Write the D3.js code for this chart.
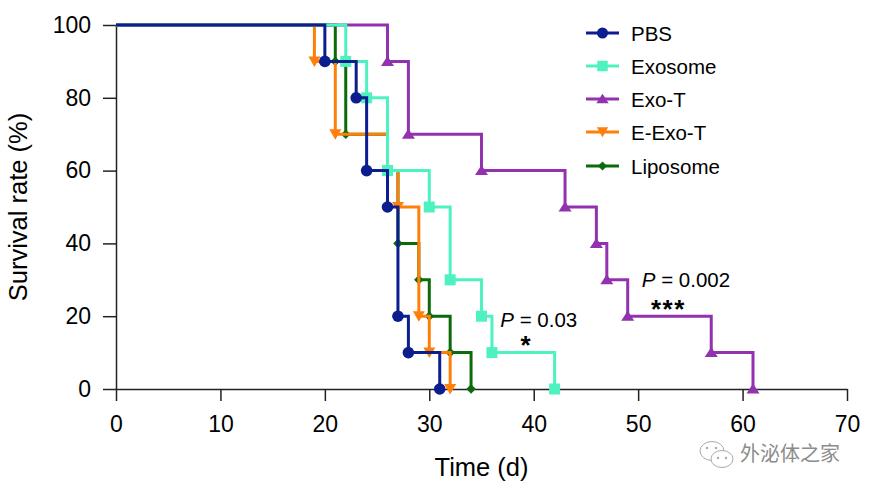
<!DOCTYPE html>
<html>
<head>
<meta charset="utf-8">
<script src="https://cdn.jsdelivr.net/npm/d3@7"></script>
<style>
  html, body { margin: 0; padding: 0; background: #fff; }
  svg { display: block; }
  text { font-family: "Liberation Sans", Arial, Helvetica, sans-serif; }
</style>
</head>
<body>
<svg id="chart" width="873" height="492"></svg>
<script>
// ---------------- data ----------------
const seriesNames = ["PBS", "Exosome", "Exo-T", "E-Exo-T", "Liposome"];
const pbsTimes      = [0, 20, 23, 24, 26, 27, 28, 31];
const pbsValues     = [100, 90, 80, 60, 50, 20, 10, 0];
const exosomeTimes  = [0, 22, 24, 26, 30, 32, 35, 36, 42];
const exosomeValues = [100, 90, 80, 60, 50, 30, 20, 10, 0];
const exoTTimes     = [0, 26, 28, 35, 43, 46, 47, 49, 57, 61];
const exoTValues    = [100, 90, 70, 60, 50, 40, 30, 20, 10, 0];
const eExoTTimes    = [0, 19, 21, 26, 27, 29, 30, 32];
const eExoTValues   = [100, 90, 70, 60, 50, 20, 10, 0];
const liposomeTimes = [0, 21, 22, 26, 27, 29, 30, 32, 34];
const liposomeValues= [100, 90, 70, 60, 40, 30, 20, 10, 0];
const xTicks = [0, 10, 20, 30, 40, 50, 60, 70];
const yTicks = [0, 20, 40, 60, 80, 100];
const xLabel = "Time (d)";
const yLabel = "Survival rate (%)";
const annotations = [
  {x: 36.8, y: 17.1, p: "0.03", stars: "*", sx: 39.3, sy: 9.6},
  {x: 50.35, y: 27.9, p: "0.002", stars: "***", sx: 52.9, sy: 19.5}
];

// ---------------- styles ----------------
const colors = {
  "PBS": "#0c1d8e",
  "Exosome": "#4ef2c0",
  "Exo-T": "#9232ae",
  "E-Exo-T": "#ff7f0a",
  "Liposome": "#0b6b0b"
};
const symbols = {
  "PBS": "circle",
  "Exosome": "square",
  "Exo-T": "triUp",
  "E-Exo-T": "triDown",
  "Liposome": "diamond"
};

const series = [
  {name: "PBS", times: pbsTimes, values: pbsValues},
  {name: "Exosome", times: exosomeTimes, values: exosomeValues},
  {name: "Exo-T", times: exoTTimes, values: exoTValues},
  {name: "E-Exo-T", times: eExoTTimes, values: eExoTValues},
  {name: "Liposome", times: liposomeTimes, values: liposomeValues}
].map(s => ({...s, points: s.times.map((t, i) => ({t, v: s.values[i]}))}));

const svg = d3.select("#chart");
const x = d3.scaleLinear().domain([0, 70]).range([116, 847]);
const y = d3.scaleLinear().domain([0, 100]).range([389, 25]);

// axes
const axisColor = "#222";
const gx = svg.append("g").attr("transform", `translate(0,${y(0)})`)
  .call(d3.axisBottom(x).tickValues(xTicks).tickSize(12).tickSizeOuter(0).tickPadding(15));
const gy = svg.append("g").attr("transform", `translate(${x(0)},0)`)
  .call(d3.axisLeft(y).tickValues(yTicks).tickSize(13).tickSizeOuter(0).tickPadding(12));
[gx, gy].forEach(g => {
  g.select(".domain").attr("stroke", axisColor).attr("stroke-width", 1.5);
  g.selectAll(".tick line").attr("stroke", axisColor).attr("stroke-width", 1.5);
  g.selectAll(".tick text").attr("fill", "#000").style("font-size", "23px")
    .style("font-family", '"Liberation Sans", Arial, sans-serif');
});

// axis titles
svg.append("text").attr("x", (x(0) + x(70)) / 2).attr("y", 476)
  .attr("text-anchor", "middle").style("font-size", "25.5px").text(xLabel);
svg.append("text").attr("transform", `translate(27,${(y(0) + y(100)) / 2}) rotate(-90)`)
  .attr("text-anchor", "middle").style("font-size", "25.5px").text(yLabel);

// marker drawer
function drawMarker(g, type, cx, cy, color, scale = 1) {
  const k = scale;
  if (type === "circle") {
    g.append("circle").attr("cx", cx).attr("cy", cy).attr("r", 5.8 * k).attr("fill", color);
  } else if (type === "square") {
    const s = 11 * k;
    g.append("rect").attr("x", cx - s / 2).attr("y", cy - s / 2).attr("width", s).attr("height", s).attr("fill", color);
  } else if (type === "triUp") {
    g.append("path").attr("d", `M${cx},${cy - 5.5 * k} L${cx - 6.5 * k},${cy + 4.5 * k} L${cx + 6.5 * k},${cy + 4.5 * k} Z`).attr("fill", color);
  } else if (type === "triDown") {
    g.append("path").attr("d", `M${cx},${cy + 5.5 * k} L${cx - 6 * k},${cy - 5 * k} L${cx + 6 * k},${cy - 5 * k} Z`).attr("fill", color);
  } else if (type === "diamond") {
    const s = 4.8 * k;
    g.append("path").attr("d", `M${cx},${cy - s} L${cx + s},${cy} L${cx},${cy + s} L${cx - s},${cy} Z`).attr("fill", color);
  }
}

// curves (draw in reverse legend order so PBS is on top)
const line = d3.line().x(d => x(d.t)).y(d => y(d.v)).curve(d3.curveStepAfter);
series.slice().reverse().forEach(s => {
  const g = svg.append("g");
  g.append("path").datum(s.points).attr("d", line)
    .attr("fill", "none").attr("stroke", colors[s.name]).attr("stroke-width", 3)
    .attr("stroke-linejoin", "miter").attr("stroke-linecap", "butt");
  s.points.slice(1).forEach(p => drawMarker(g, symbols[s.name], x(p.t), y(p.v), colors[s.name]));
});

// legend
const legendRows = [33, 66, 99, 132, 166];
seriesNames.forEach((name, i) => {
  const g = svg.append("g");
  const ly = legendRows[i];
  g.append("line").attr("x1", 586).attr("x2", 619).attr("y1", ly).attr("y2", ly)
    .attr("stroke", colors[name]).attr("stroke-width", 3);
  drawMarker(g, symbols[name], 602.5, ly, colors[name], 0.95);
  g.append("text").attr("x", 631).attr("y", ly + 7.5).style("font-size", "20.5px").text(name);
});

// annotations
annotations.forEach(a => {
  const t = svg.append("text").attr("x", x(a.x)).attr("y", y(a.y)).style("font-size", "20.5px");
  t.append("tspan").style("font-style", "italic").text("P");
  t.append("tspan").text(" = " + a.p);
  svg.append("text").attr("x", x(a.sx)).attr("y", y(a.sy)).attr("text-anchor", "middle")
    .style("font-size", "26px").style("font-weight", "bold").attr("letter-spacing", "1.5px").text(a.stars);
});

// watermark
const wm = svg.append("g").attr("fill", "none").attr("stroke", "#aaa").attr("stroke-width", 1);
wm.append("ellipse").attr("cx", 712).attr("cy", 451).attr("rx", 12).attr("ry", 9.5);
wm.append("ellipse").attr("cx", 722).attr("cy", 459).attr("rx", 11).attr("ry", 8.5).attr("fill", "#fff");
[[707, 448], [716, 448], [718, 458], [726, 458]].forEach(([cx, cy]) =>
  wm.append("circle").attr("cx", cx).attr("cy", cy).attr("r", 1.2).attr("fill", "#aaa").attr("stroke", "none"));
svg.append("text").attr("x", 740).attr("y", 461).style("font-size", "20px")
  .style("font-family", '"Noto Sans CJK SC", sans-serif').attr("fill", "#8c8c8c").text("外泌体之家");
</script>
</body>
</html>
